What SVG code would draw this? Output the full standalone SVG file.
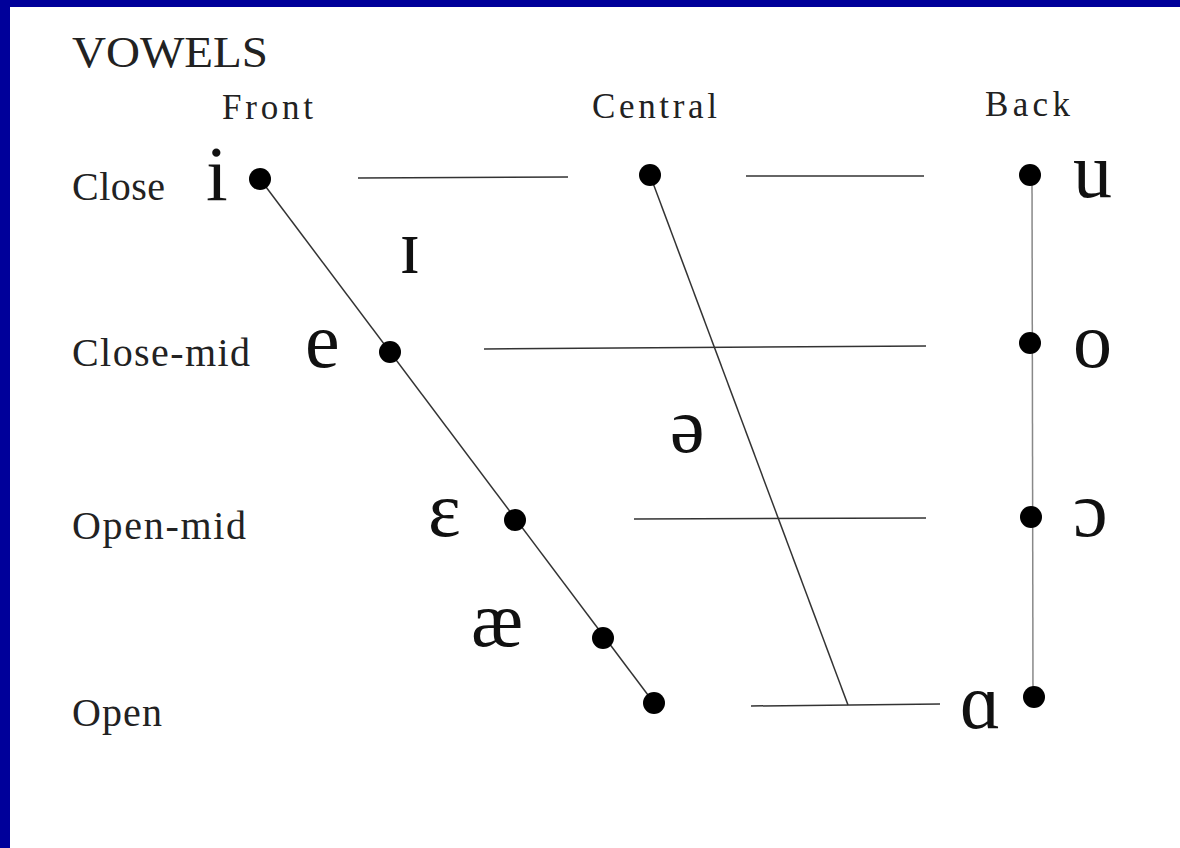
<svg xmlns="http://www.w3.org/2000/svg" width="1180" height="848" viewBox="0 0 1180 848">
<style>
  .lbl { font-family: "Liberation Serif", "DejaVu Serif", serif; fill: #222; }
  .head { font-size: 35px; }
  .row { font-size: 40px; }
  .sym { font-family: "Liberation Serif", "DejaVu Serif", serif; font-size: 78px; fill: #111; }
  .dot { fill: #000; }
  .ln { stroke: #333; stroke-width: 1.5; fill: none; }
  .lt { stroke: #888; stroke-width: 1.5; fill: none; }
</style>
<rect x="0" y="0" width="1180" height="848" fill="#ffffff"/>
<rect x="0" y="0" width="1180" height="7" fill="#00009a"/>
<rect x="0" y="0" width="10" height="848" fill="#00009a"/>

<g id="title"><text class="lbl" x="72" y="67" font-size="45" textLength="196" lengthAdjust="spacingAndGlyphs">VOWELS</text></g>
<g id="col-front"><text class="lbl head" x="222" y="119" textLength="91">Front</text></g>
<g id="col-central"><text class="lbl head" x="592" y="118" textLength="125">Central</text></g>
<g id="col-back"><text class="lbl head" x="985" y="116" textLength="85">Back</text></g>
<g id="row-close"><text class="lbl row" x="72" y="200" textLength="93">Close</text></g>
<g id="row-closemid"><text class="lbl row" x="72" y="366" textLength="178">Close-mid</text></g>
<g id="row-openmid"><text class="lbl row" x="72" y="539" textLength="174">Open-mid</text></g>
<g id="row-open"><text class="lbl row" x="72" y="726" textLength="90">Open</text></g>

<g id="connectors">
  <line class="ln" x1="260" y1="179" x2="654" y2="703"/>
  <line class="ln" x1="650" y1="175" x2="848" y2="705"/>
  <line class="lt" x1="1032" y1="175" x2="1033" y2="697"/>
  <line class="ln" x1="358" y1="178" x2="568" y2="177"/>
  <line class="ln" x1="746" y1="176" x2="924" y2="176"/>
  <line class="ln" x1="484" y1="349" x2="926" y2="346"/>
  <line class="ln" x1="634" y1="519" x2="926" y2="518"/>
  <line class="ln" x1="751" y1="706" x2="940" y2="704"/>
</g>

<g id="v-i"><text class="sym" x="206" y="200">i</text><circle class="dot" cx="260" cy="179" r="11"/></g>
<g id="v-central-close"><circle class="dot" cx="650" cy="175" r="11"/></g>
<g id="v-u"><circle class="dot" cx="1030" cy="175" r="11"/><text class="sym" x="1073" y="197">u</text></g>
<g id="v-I"><text class="sym" x="399" y="273">ɪ</text></g>
<g id="v-e"><text class="sym" x="305" y="367">e</text><circle class="dot" cx="390" cy="352" r="11"/></g>
<g id="v-o"><circle class="dot" cx="1030" cy="343" r="11"/><text class="sym" x="1073" y="367">o</text></g>
<g id="v-schwa"><text class="sym" x="670" y="452">ə</text></g>
<g id="v-epsilon"><text class="sym" x="428" y="536">ɛ</text><circle class="dot" cx="515" cy="520" r="11"/></g>
<g id="v-openo"><circle class="dot" cx="1031" cy="517" r="11"/><text class="sym" x="1073" y="536">ɔ</text></g>
<g id="v-ae"><text class="sym" x="471" y="646">æ</text><circle class="dot" cx="603" cy="638" r="11"/></g>
<g id="v-open-front"><circle class="dot" cx="654" cy="703" r="11"/></g>
<g id="v-alpha"><text class="sym" x="960" y="728">ɑ</text><circle class="dot" cx="1034" cy="697" r="11"/></g>
</svg>
